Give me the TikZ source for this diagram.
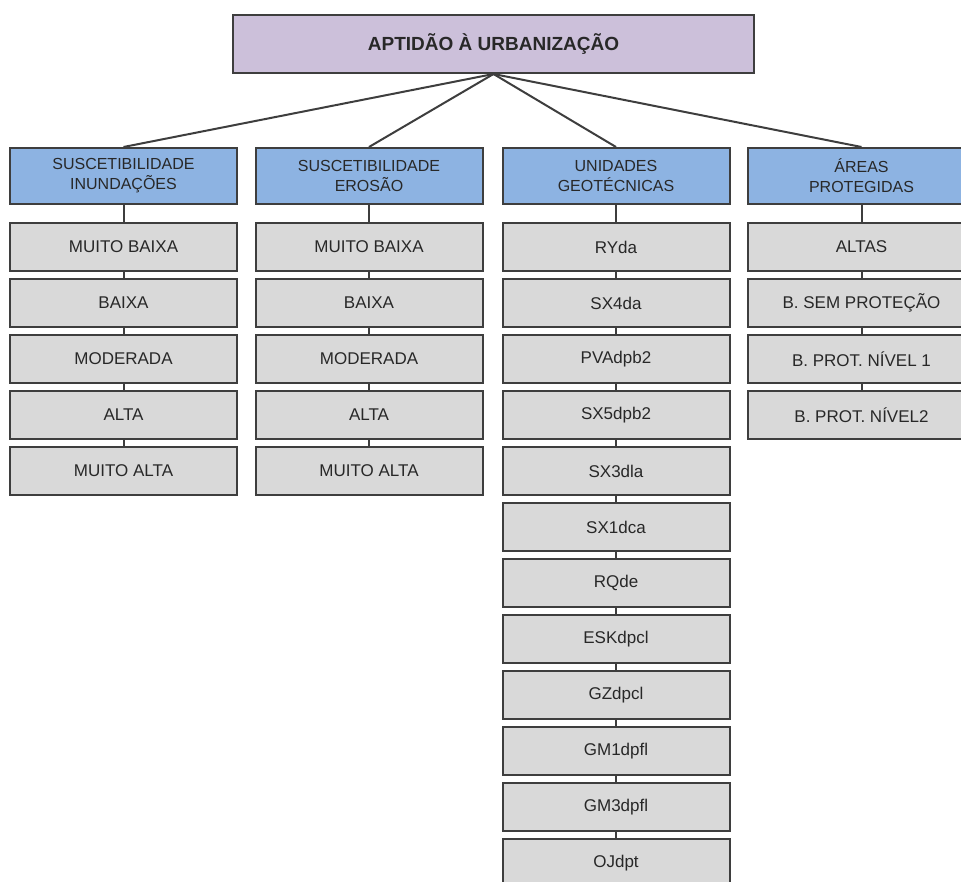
\documentclass[tikz,border=0pt]{standalone}
\usepackage{fontspec}
\setmainfont{Liberation Sans}
\usetikzlibrary{positioning}
\definecolor{toplilac}{RGB}{204,192,218}
\definecolor{headblue}{RGB}{141,179,226}
\definecolor{itemgray}{RGB}{217,217,217}
\definecolor{edgegray}{RGB}{62,62,62}
\definecolor{textgray}{RGB}{40,40,40}

\begin{document}
\begin{tikzpicture}[x=1pt,y=-1pt,
  topbox/.style={draw=edgegray, line width=2pt, fill=toplilac, minimum width=521pt,
                 minimum height=58pt, font=\fontsize{19}{22}\selectfont\bfseries, text=textgray},
  headbox/.style={draw=edgegray, line width=2pt, fill=headblue, minimum width=227pt,
                  minimum height=56pt, align=center, font=\fontsize{16}{20}\selectfont, text=textgray},
  itembox/.style={draw=edgegray, line width=2pt, fill=itemgray, minimum width=227pt,
                  minimum height=48pt, font=\fontsize{17}{20}\selectfont, text=textgray},
  link/.style={draw=edgegray, line width=2pt}]

  \useasboundingbox (0,0) rectangle (961,881);

  %% root
  \node[topbox] (top) at (493.5,44) {APTIDÃO À URBANIZAÇÃO};

  %% criteria
  \node[headbox] (inund-0) at (123.5,176) {SUSCETIBILIDADE\\INUNDAÇÕES};
  \node[headbox] (eros-0)  at (369,176)   {SUSCETIBILIDADE\\EROSÃO};
  \node[headbox] (geo-0)   at (616,176)   {UNIDADES\\GEOTÉCNICAS};
  \node[headbox] (areas-0) at (861.5,176) {ÁREAS\\PROTEGIDAS};

  \foreach \crit in {inund, eros, geo, areas}
    \draw[link] (top.south) -- (\crit-0.north);

  %% classes under each criterion
  \foreach \crit/\x/\classes in {
      inund/123.5/{MUITO BAIXA, BAIXA, MODERADA, ALTA, MUITO ALTA},
      eros/369/{MUITO BAIXA, BAIXA, MODERADA, ALTA, MUITO ALTA},
      geo/616/{RYda, SX4da, PVAdpb2, SX5dpb2, SX3dla, SX1dca, RQde, ESKdpcl, GZdpcl, GM1dpfl, GM3dpfl, OJdpt},
      areas/861.5/{ALTAS, B. SEM PROTEÇÃO, B. PROT. NÍVEL 1, B. PROT. NÍVEL2}}
  {
    \foreach \cls [count=\i, remember=\i as \j (initially 0)] in \classes {
      \node[itembox] (\crit-\i) at (\x,247+56*\i-56) {\cls};
      \draw[link] (\crit-\j.south) -- (\crit-\i.north);
    }
  }
\end{tikzpicture}
\end{document}
